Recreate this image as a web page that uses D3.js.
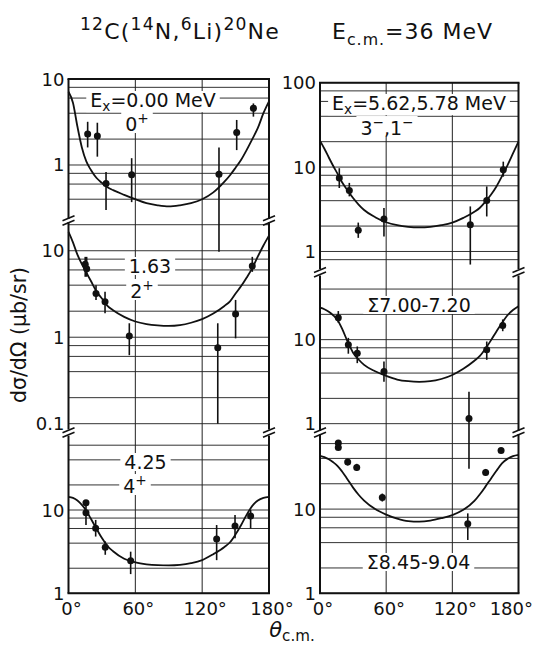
<!DOCTYPE html>
<html>
<head>
<meta charset="utf-8">
<script src="https://cdn.jsdelivr.net/npm/d3@7"></script>
<style>
  body { margin: 0; background: #fff; }
  svg text { font-family: "DejaVu Sans", sans-serif; fill: #111; }
</style>
</head>
<body>
<svg id="chart" width="534" height="646"></svg>
<script>
// ── Angle grid shared by all calculated curves (degrees, c.m.) ──
const curveTheta = [0, 4, 8, 12, 16, 20, 25, 30, 35, 40, 50, 60, 70, 80, 90,
  100, 110, 120, 130, 140, 145, 150, 155, 160, 165, 170, 175, 180];

// ── Calculated curves (µb/sr) ──
const curveGs = [7.1, 5.3, 2.8, 1.6, 1.1, 0.88, 0.71, 0.62, 0.55, 0.51, 0.45, 0.40, 0.36, 0.34, 0.33,
  0.34, 0.36, 0.40, 0.48, 0.64, 0.76, 0.93, 1.15, 1.5, 2.0, 2.7, 4.0, 5.5];
const curve163 = [16.5, 12.5, 9.0, 7.0, 5.6, 4.5, 3.4, 2.8, 2.3, 2.05, 1.72, 1.52, 1.42, 1.37, 1.35,
  1.38, 1.47, 1.62, 1.88, 2.3, 2.6, 3.2, 3.9, 4.9, 6.3, 8.6, 11.5, 15];
const curve425 = [14.4, 14.0, 13.0, 11.5, 9.8, 7.9, 6.0, 4.6, 3.7, 3.2, 2.6, 2.35, 2.23, 2.18, 2.17,
  2.2, 2.3, 2.5, 2.95, 3.6, 4.1, 5.1, 6.6, 8.8, 11.2, 13.0, 14.0, 14.4];
const curve562 = [20.5, 16.5, 13.0, 10.3, 8.3, 6.6, 5.3, 4.3, 3.6, 3.1, 2.55, 2.22, 2.05, 1.96, 1.93,
  1.96, 2.05, 2.2, 2.5, 2.95, 3.3, 3.9, 4.7, 5.9, 7.8, 10.5, 14.5, 20];
const curve700 = [24, 23, 21.5, 19.5, 17, 13.5, 9.5, 7.0, 5.8, 5.0, 4.2, 3.7, 3.35, 3.2, 3.15,
  3.2, 3.4, 3.8, 4.5, 5.6, 6.4, 7.8, 9.8, 12.5, 15.8, 19.5, 22.5, 25];
const curve845 = [43, 41.5, 39, 36, 32.5, 28, 22.5, 18, 14.8, 12.6, 10.0, 8.6, 7.7, 7.2, 7.1,
  7.3, 7.8, 8.5, 9.8, 12.5, 15, 18.5, 23, 28.5, 35, 39.5, 42.5, 44];

// ── Measured points: angle, cross section, error bar low / high ──
const gsTheta = [17.2, 25.9, 33.7, 56.7, 135.1, 151, 166];
const gsSigma = [2.29, 2.17, 0.61, 0.77, 0.78, 2.38, 4.56];
const gsLo    = [1.6, 1.25, 0.30, 0.37, 0.098, 1.49, 3.65];
const gsHi    = [3.18, 3.1, 0.83, 1.2, 1.6, 3.34, 5.2];

const p163Theta = [15, 16.3, 24.7, 32.8, 54.6, 134, 150, 165];
const p163Sigma = [7.0, 6.2, 3.21, 2.57, 1.03, 0.757, 1.85, 6.65];
const p163Lo    = [5.0, 5.0, 2.7, 1.89, 0.62, 0.1, 0.97, 5.7];
const p163Hi    = [8.5, 8.5, 4.0, 3.36, 1.45, 1.45, 2.7, 8.5];

const p425Theta = [15.7, 15.7, 24.4, 33, 55.8, 133, 149.5, 163.5];
const p425Sigma = [12.2, 9.3, 6.03, 3.56, 2.46, 4.49, 6.43, 8.47];
const p425Lo    = [11.2, 6.6, 4.8, 2.9, 1.7, 2.5, 4.57, 6.0];
const p425Hi    = [13.0, 11.5, 7.6, 4.2, 3.16, 6.6, 8.7, 10];

const p562Theta = [17.5, 26.6, 34.7, 58, 136.3, 151.2, 166.2];
const p562Sigma = [7.41, 5.29, 1.78, 2.42, 2.08, 4.03, 9.3];
const p562Lo    = [5.65, 4.5, 1.45, 1.51, 0.70, 2.6, 7.7];
const p562Hi    = [9.7, 6.5, 2.2, 3.27, 3.42, 5.9, 11.6];

const p700Theta = [16.6, 25.7, 33.8, 58, 135.1, 151.2, 165.7];
const p700Sigma = [18.2, 8.7, 6.9, 4.17, 1.15, 7.59, 14.7];
const p700Lo    = [15.9, 6.8, 5.25, 3.16, 0.29, 5.75, 12.6];
const p700Hi    = [21.9, 10.5, 8.3, 5.5, 2.39, 9.5, 17.4];

const p845Theta = [16.6, 16.6, 25.1, 33.3, 56.5, 134, 150.2, 164.2];
const p845Sigma = [61, 54, 36.2, 31.3, 13.7, 6.68, 27.3, 49.8];
const p845Lo    = [57, 51, 33, 28.5, 12.3, 4.3, 25, 47];
const p845Hi    = [65, 58, 39.5, 34.5, 15.3, 8.9, 30, 52.5];

// ── Axis labels ──
const xTicks = [0, 60, 120, 180];
const gridMantissas = [1, 2, 4, 6, 8];

// ── Layout ──
const svg = d3.select("#chart");
const FS = 18;     // tick labels
const LS = 19;     // in-panel labels

const cols = {
  left:  { x0: 68.5, x1: 269 },
  right: { x0: 320,  x1: 518.5 }
};
Object.values(cols).forEach(c => {
  c.x = d3.scaleLinear().domain([0, 180]).range([c.x0, c.x1]);
});

const panels = [
  { col: "left",  top: 79,    bottom: 219,   dom: [0.2355, 10], ticks: [10, 1],
    curve: curveGs, th: gsTheta, s: gsSigma, lo: gsLo, hi: gsHi },
  { col: "left",  top: 222,   bottom: 429.4, dom: [0.0859, 21.5], ticks: [10, 1, 0.1],
    curve: curve163, th: p163Theta, s: p163Sigma, lo: p163Lo, hi: p163Hi },
  { col: "left",  top: 435.7, bottom: 593.3, dom: [1, 78], ticks: [10, 1],
    curve: curve425, th: p425Theta, s: p425Sigma, lo: p425Lo, hi: p425Hi },
  { col: "right", top: 82.7,  bottom: 269,   dom: [0.62, 100], ticks: [100, 10, 1],
    curve: curve562, th: p562Theta, s: p562Sigma, lo: p562Lo, hi: p562Hi },
  { col: "right", top: 275.5, bottom: 430.9, dom: [0.82, 58], ticks: [10, 1],
    curve: curve700, th: p700Theta, s: p700Sigma, lo: p700Lo, hi: p700Hi },
  { col: "right", top: 434,   bottom: 593.3, dom: [1, 78], ticks: [10, 1],
    curve: curve845, th: p845Theta, s: p845Sigma, lo: p845Lo, hi: p845Hi }
];
panels.forEach(p => {
  p.c = cols[p.col];
  p.y = d3.scaleLog().domain(p.dom).range([p.bottom, p.top]);
});

// ── Rich text helper (super/subscripts via tspans) ──
function rich(sel, parts, size, small = 0.68, subShift = 0.28) {
  let shift = 0;
  parts.forEach(part => {
    const target = part.sup ? -size * 0.42 : part.sub ? size * subShift : 0;
    sel.append("tspan")
      .attr("dy", target - shift)
      .attr("font-size", (part.sup || part.sub) ? size * small : size)
      .attr("font-style", part.it ? "italic" : null)
      .text(part.t);
    shift = target;
  });
  return sel;
}

const gGrid = svg.append("g");
const gFrame = svg.append("g");
const gLabelBg = svg.append("g");
const gLabels = svg.append("g");
const gData = svg.append("g");

// ── Grid lines, frame and tick labels ──
panels.forEach(p => {
  const [lo, hi] = p.dom;
  const vals = [];
  for (let k = Math.floor(Math.log10(lo)); k <= Math.ceil(Math.log10(hi)); k++) {
    gridMantissas.forEach(m => {
      const v = m * Math.pow(10, k);
      if (v >= lo * 0.999 && v <= hi * 1.001) vals.push(v);
    });
  }
  gGrid.selectAll(null).data(vals).join("line")
    .attr("x1", p.c.x0).attr("x2", p.c.x1)
    .attr("y1", d => p.y(d)).attr("y2", d => p.y(d))
    .attr("stroke", "#333").attr("stroke-width", 1);

  // side borders
  [p.c.x0, p.c.x1].forEach(x => {
    gFrame.append("line")
      .attr("x1", x).attr("x2", x).attr("y1", p.top).attr("y2", p.bottom)
      .attr("stroke", "#111").attr("stroke-width", 2);
  });

  gFrame.selectAll(null).data(p.ticks).join("text")
    .attr("x", p.c.x0 - 4)
    .attr("y", d => p.y(d) + 6.5)
    .attr("text-anchor", "end")
    .attr("font-size", FS)
    .text(d => d);
});

// top / bottom border and vertical grid per column
Object.values(cols).forEach((c, ci) => {
  const ps = panels.filter(p => p.c === c);
  const top = ps[0].top, bottom = ps[ps.length - 1].bottom;
  gFrame.append("line").attr("x1", c.x0 - 1).attr("x2", c.x1 + 1)
    .attr("y1", top).attr("y2", top).attr("stroke", "#111").attr("stroke-width", 2);
  gFrame.append("line").attr("x1", c.x0 - 1).attr("x2", c.x1 + 1)
    .attr("y1", bottom).attr("y2", bottom).attr("stroke", "#111").attr("stroke-width", 2);

  gGrid.selectAll(null).data([60, 120]).join("line")
    .attr("x1", d => c.x(d)).attr("x2", d => c.x(d))
    .attr("y1", top).attr("y2", bottom)
    .attr("stroke", "#222").attr("stroke-width", 1);

  // break marks between stacked panels
  for (let i = 0; i < ps.length - 1; i++) {
    const yb = (ps[i].bottom + ps[i + 1].top) / 2;
    [c.x0, c.x1].forEach(x => {
      [-2.2, 2.2].forEach(off => {
        gFrame.append("line")
          .attr("x1", x - 6).attr("y1", yb + off + 2.5)
          .attr("x2", x + 6).attr("y2", yb + off - 2.5)
          .attr("stroke", "#111").attr("stroke-width", 1.6);
      });
    });
  }

  // x tick labels (last one on the right column pulled in to fit the page)
  gFrame.selectAll(null).data(xTicks).join("text")
    .attr("x", d => (ci === 1 && d === 180) ? 533 : c.x(d) + 3)
    .attr("y", 615)
    .attr("text-anchor", d => (ci === 1 && d === 180) ? "end" : "middle")
    .attr("font-size", FS)
    .text(d => d + "°");
});

// ── Curves and data points ──
const lineFor = p => d3.line()
  .x(d => p.c.x(d[0]))
  .y(d => p.y(d[1]))
  .curve(d3.curveMonotoneX);

panels.forEach(p => {
  gData.append("path")
    .attr("d", lineFor(p)(d3.zip(curveTheta, p.curve)))
    .attr("fill", "none")
    .attr("stroke", "#111")
    .attr("stroke-width", 1.8);

  const pts = p.th.map((t, i) => ({ t, s: p.s[i], lo: p.lo[i], hi: p.hi[i] }));
  gData.selectAll(null).data(pts).join("line")
    .attr("x1", d => p.c.x(d.t)).attr("x2", d => p.c.x(d.t))
    .attr("y1", d => p.y(d.hi)).attr("y2", d => p.y(d.lo))
    .attr("stroke", "#111").attr("stroke-width", 1.6);
  gData.selectAll(null).data(pts).join("circle")
    .attr("cx", d => p.c.x(d.t)).attr("cy", d => p.y(d.s))
    .attr("r", 3.5).attr("fill", "#111");
});

// ── In-panel state labels (white background breaks the grid) ──
function label(x, y, parts, size = LS) {
  const t = gLabels.append("text").attr("x", x).attr("y", y)
    .attr("text-anchor", "middle").attr("font-size", size);
  rich(t, parts, size, 0.72, 0.22);
  const b = t.node().getBBox();
  gLabelBg.append("rect")
    .attr("x", b.x - 4).attr("y", b.y + 2)
    .attr("width", b.width + 8).attr("height", b.height - 4)
    .attr("fill", "#fff");
}

label(153, 107, [{ t: "E" }, { t: "x", sub: true }, { t: "=0.00 MeV" }]);
label(137, 131, [{ t: "0" }, { t: "+", sup: true }]);
label(419, 110, [{ t: "E" }, { t: "x", sub: true }, { t: "=5.62,5.78 MeV" }]);
label(387, 135, [{ t: "3" }, { t: "−", sup: true }, { t: ",1" }, { t: "−", sup: true }]);
label(150, 273, [{ t: "1.63" }]);
label(142, 298, [{ t: "2" }, { t: "+", sup: true }]);
label(419, 312, [{ t: "Σ7.00-7.20" }]);
label(145.5, 469, [{ t: "4.25" }]);
label(135, 493, [{ t: "4" }, { t: "+", sup: true }]);
label(418.5, 569, [{ t: "Σ8.45-9.04" }]);

// ── Titles ──
rich(svg.append("text").attr("x", 80).attr("y", 39).attr("font-size", 22).attr("letter-spacing", 1.2),
  [{ t: "12", sup: true }, { t: "C(" }, { t: "14", sup: true }, { t: "N," },
   { t: "6", sup: true }, { t: "Li)" }, { t: "20", sup: true }, { t: "Ne" }], 22, 0.78);
rich(svg.append("text").attr("x", 332).attr("y", 39).attr("font-size", 22).attr("letter-spacing", 1),
  [{ t: "E" }, { t: "c.m.", sub: true }, { t: "=36 MeV" }], 22, 0.72);

svg.append("text")
  .attr("transform", "translate(26,335) rotate(-90)")
  .attr("text-anchor", "middle")
  .attr("font-size", 20.5)
  .text("dσ/dΩ (μb/sr)");

rich(svg.append("text").attr("x", 292).attr("y", 637).attr("text-anchor", "middle").attr("font-size", 21),
  [{ t: "θ", it: true }, { t: "c.m.", sub: true }], 21, 0.72, 0.18);
</script>
</body>
</html>
